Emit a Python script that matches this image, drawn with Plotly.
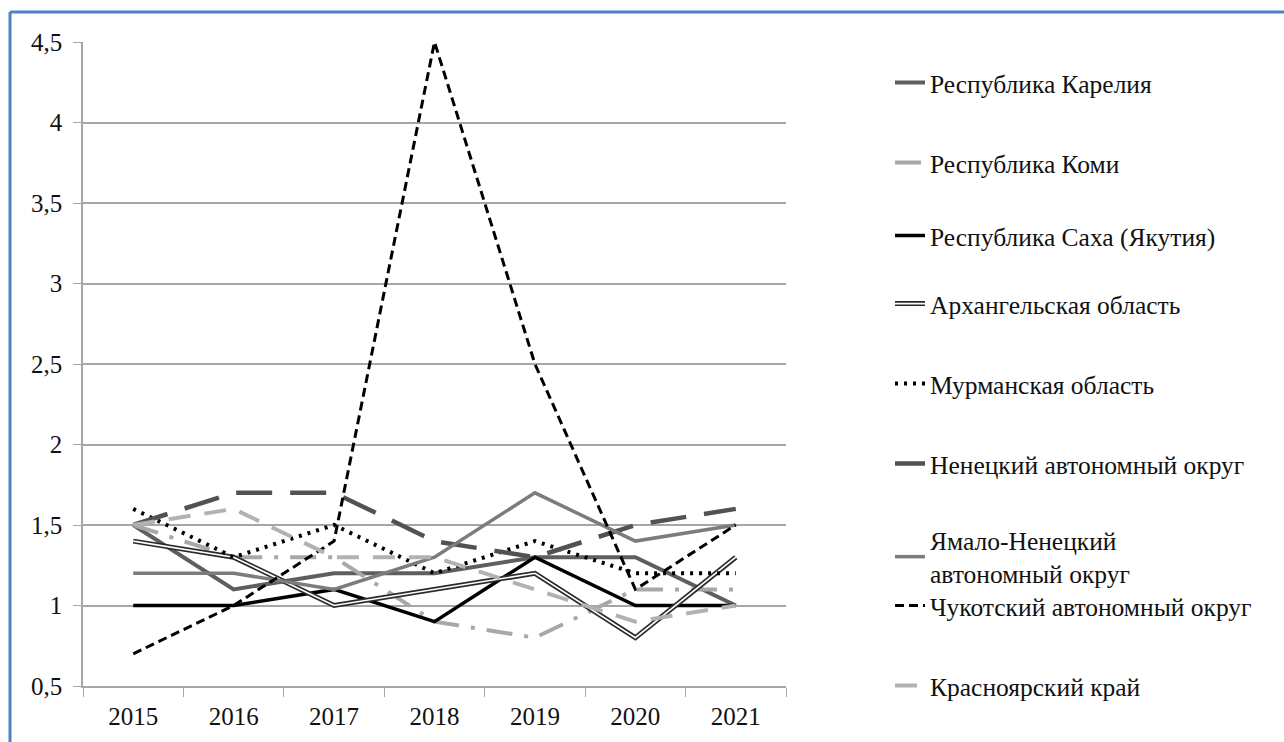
import plotly.graph_objects as go

years = ["2015", "2016", "2017", "2018", "2019", "2020", "2021"]

karelia = [1.5, 1.1, 1.2, 1.2, 1.3, 1.3, 1.0]
komi = [1.5, 1.3, 1.3, 0.9, 0.8, 1.1, 1.1]
sakha = [1.0, 1.0, 1.1, 0.9, 1.3, 1.0, 1.0]
arkh = [1.4, 1.3, 1.0, 1.1, 1.2, 0.8, 1.3]
murmansk = [1.6, 1.3, 1.5, 1.2, 1.4, 1.2, 1.2]
nenets = [1.5, 1.7, 1.7, 1.4, 1.3, 1.5, 1.6]
yamal = [1.2, 1.2, 1.1, 1.3, 1.7, 1.4, 1.5]
chukotka = [0.7, 1.0, 1.4, 4.5, 2.5, 1.1, 1.5]
krasnoyarsk = [1.5, 1.6, 1.3, 1.3, 1.1, 0.9, 1.0]

ytick_vals = [0.5, 1, 1.5, 2, 2.5, 3, 3.5, 4, 4.5]
ytick_text = ["0,5", "1", "1,5", "2", "2,5", "3", "3,5", "4", "4,5"]

# plot area in pixels
L, R, T, B = 83, 786, 42, 686
W, H = 1284, 742

def px2x(px):
    return (px - L) / (R - L)

def py2y(py):
    return (B - py) / (B - T)

series = [
    ("Республика Карелия", karelia, dict(color="#5e5e5e", width=4), 83),
    ("Республика Коми", komi, dict(color="#a8a8a8", width=4, dash="26px,12px,4px,12px"), 163),
    ("Республика Саха (Якутия)", sakha, dict(color="#000000", width=3.5), 236),
    ("Архангельская область", arkh, dict(color="#2a2a2a", width=5), 304),
    ("Мурманская область", murmansk, dict(color="#000000", width=4, dash="3px,6px"), 384),
    ("Ненецкий автономный округ", nenets, dict(color="#525252", width=4.5, dash="36px,18px"), 464),
    ("Ямало-Ненецкий<br>автономный округ", yamal, dict(color="#7c7c7c", width=3.5), 557),
    ("Чукотский автономный округ", chukotka, dict(color="#000000", width=3, dash="9px,5px"), 606),
    ("Красноярский край", krasnoyarsk, dict(color="#b2b2b2", width=4, dash="22px,14px"), 686),
]

FONT = "Liberation Serif, DejaVu Serif, serif"
fig = go.Figure()
legend_font = dict(family=FONT, size=25.5, color="#111111")
layout_legends = {}
LEGX = 890

for i, (name, vals, line, ly) in enumerate(series):
    lname = "legend" if i == 0 else f"legend{i + 1}"
    fig.add_trace(go.Scatter(x=years, y=vals, mode="lines", name=name, line=line,
                             legend=lname, hoverinfo="name+y"))
    if name.startswith("Архангельская"):
        fig.add_trace(go.Scatter(x=years, y=vals, mode="lines", name=" ",
                                 line=dict(color="#ffffff", width=1.6),
                                 legend="legend10", hoverinfo="skip"))
    layout_legends[lname] = dict(
        x=px2x(LEGX), y=py2y(ly), xanchor="left", yanchor="middle",
        bgcolor="rgba(0,0,0,0)", borderwidth=0, font=legend_font,
        itemwidth=30,
    )
    if name.startswith("Архангельская"):
        layout_legends["legend10"] = dict(
            x=px2x(LEGX), y=py2y(ly), xanchor="left", yanchor="middle",
            bgcolor="rgba(0,0,0,0)", borderwidth=0, font=legend_font,
            itemwidth=30,
        )

fig.update_layout(
    width=W, height=H,
    margin=dict(l=L, r=W - R, t=T, b=H - B, autoexpand=False),
    paper_bgcolor="white", plot_bgcolor="white",
    font=dict(family=FONT, size=25, color="#111111"),
    showlegend=True,
    xaxis=dict(
        type="category", range=[-0.5, 6.5], tickson="boundaries", ticks="outside", ticklen=9,
        tickcolor="#a6a6a6", showline=True, linecolor="#a6a6a6", linewidth=1.5,
        showgrid=False, tickfont=dict(size=25), fixedrange=True, ticklabelstandoff=7,
    ),
    yaxis=dict(
        range=[0.5, 4.5], tickvals=ytick_vals, ticktext=ytick_text,
        ticks="outside", ticklen=8, tickcolor="#a6a6a6",
        showline=True, linecolor="#a6a6a6", linewidth=1.5,
        showgrid=True, gridcolor="#a6a6a6", gridwidth=1.5,
        zeroline=False, tickfont=dict(size=25), fixedrange=True, ticklabelstandoff=6,
    ),
    shapes=[
        dict(type="line", xref="paper", yref="paper",
             x0=px2x(10), x1=px2x(1290), y0=py2y(12), y1=py2y(12),
             line=dict(color="#4f81bd", width=3)),
        dict(type="line", xref="paper", yref="paper",
             x0=px2x(10), x1=px2x(10), y0=py2y(12), y1=py2y(750),
             line=dict(color="#4f81bd", width=3)),
    ],
    **layout_legends,
)

fig.write_html("out.html", config={"displayModeBar": False},
               post_script="document.body.style.margin='0';")
